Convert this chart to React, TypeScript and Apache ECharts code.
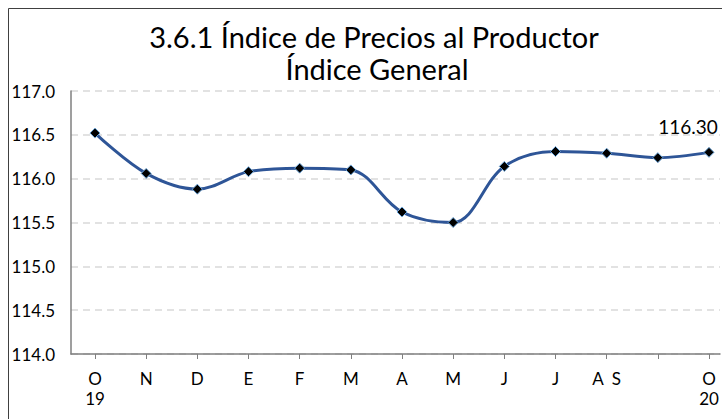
import React, { useEffect, useRef } from "react";
import * as echarts from "echarts";

const monthLabels = ["O\n19", "N", "D", "E", "F", "M", "A", "M", "J", "J", "A  S", "", "O\n20"];
const indexValues = [116.52, 116.06, 115.88, 116.08, 116.12, 116.1, 115.62, 115.5, 116.14, 116.31, 116.29, 116.24, 116.3];
const titleLines = ["3.6.1 Índice de Precios al Productor", "Índice General"];
const lastLabel = "116.30";

export default function App() {
  const ref = useRef<HTMLDivElement>(null);
  useEffect(() => {
    if (!ref.current) return;
    const chart = echarts.init(ref.current, null, { renderer: "svg" });
    const font = "Lato, 'Noto Sans', sans-serif";
    const data = indexValues.map((v, i) => [i, v]);
    const ticks = monthLabels.map((_, i) => i);
    chart.setOption({
      animation: false,
      backgroundColor: "#ffffff",
      graphic: [
        { type: "line", shape: { x1: 8.5, y1: 8.5, x2: 8.5, y2: 419 }, style: { stroke: "#404040", lineWidth: 1 } },
        { type: "line", shape: { x1: 8.5, y1: 8.5, x2: 722, y2: 8.5 }, style: { stroke: "#404040", lineWidth: 1 } },
        {
          type: "text", x: 374, y: 36,
          style: { text: titleLines[0], font: `29px ${font}`, fill: "#000", textAlign: "center", textVerticalAlign: "middle" },
        },
        {
          type: "text", x: 377, y: 68,
          style: { text: titleLines[1], font: `29px ${font}`, fill: "#000", textAlign: "center", textVerticalAlign: "middle" },
        },
      ],
      grid: { left: 71, top: 91, right: 2, bottom: 65, containLabel: false },
      xAxis: {
        type: "value",
        min: -0.469,
        max: 12.215,
        axisLine: { show: true, onZero: false, lineStyle: { color: "#7f7f7f", width: 1.5 } },
        axisTick: { show: true, customValues: ticks, length: 5, lineStyle: { color: "#7f7f7f" } },
        splitLine: { show: false },
        axisLabel: {
          customValues: ticks,
          formatter: (v: number) => monthLabels[Math.round(v)] ?? "",
          color: "#000",
          fontSize: 17,
          fontFamily: font,
          lineHeight: 20,
          margin: 14,
          showMinLabel: true,
          showMaxLabel: true,
        },
      },
      yAxis: {
        type: "value",
        min: 114,
        max: 117,
        interval: 0.5,
        axisLine: { show: true, onZero: false, lineStyle: { color: "#7f7f7f", width: 1.5 } },
        axisTick: { show: false },
        splitLine: { show: true, lineStyle: { color: "#d9d9d9", type: [7, 5], width: 1.5 } },
        axisLabel: {
          formatter: (v: number) => v.toFixed(1),
          color: "#000",
          fontSize: 17,
          fontFamily: font,
          margin: 16,
        },
      },
      series: [
        {
          type: "line",
          data,
          smooth: 0.35,
          symbol: "diamond",
          symbolSize: 10,
          lineStyle: { color: "#2e5597", width: 3 },
          itemStyle: { color: "#000", borderColor: "#6fa8dc", borderWidth: 1 },
          label: {
            show: true,
            position: "top",
            formatter: (p: any) => (p.dataIndex === indexValues.length - 1 ? lastLabel : ""),
            fontSize: 19,
            fontFamily: font,
            color: "#000",
            offset: [-21, -6],
          },
        },
      ],
    });
    return () => chart.dispose();
  }, []);
  return <div ref={ref} style={{ position: "fixed", left: 0, top: 0, width: 722, height: 419 }} />;
}
